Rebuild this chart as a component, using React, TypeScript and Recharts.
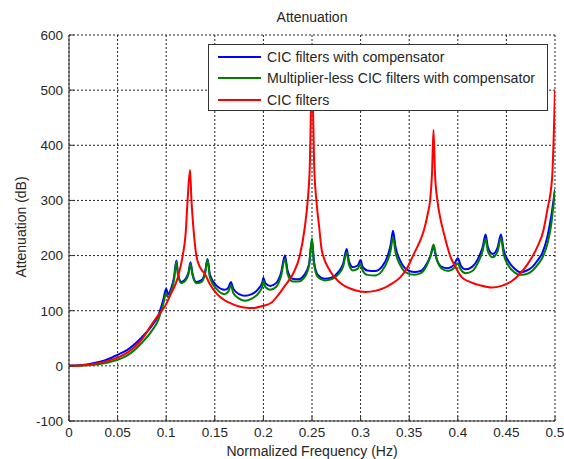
import React from 'react';
import { LineChart, Line, XAxis, YAxis, CartesianGrid } from 'recharts';

// normalized frequency ticks and attenuation ticks
const xTicks = [0, 0.05, 0.1, 0.15, 0.2, 0.25, 0.3, 0.35, 0.4, 0.45, 0.5];
const yTicks = [-100, 0, 100, 200, 300, 400, 500, 600];

// CIC filters with compensator (blue)
const compFreq = [
  0, 0.02, 0.04, 0.05, 0.06, 0.075, 0.085, 0.092, 0.097, 0.1, 0.102, 0.105, 0.108, 0.1105, 0.112, 0.1155,
  0.12, 0.123, 0.125, 0.127, 0.131, 0.136, 0.14, 0.1425, 0.145, 0.152, 0.16, 0.164, 0.1665, 0.169, 0.175,
  0.181, 0.188, 0.195, 0.199, 0.2, 0.202, 0.207, 0.213, 0.218, 0.2222, 0.225, 0.23, 0.236, 0.242, 0.247,
  0.25, 0.252, 0.256, 0.263, 0.27, 0.277, 0.282, 0.2857, 0.288, 0.292, 0.297, 0.3, 0.302, 0.307, 0.315,
  0.322, 0.328, 0.331, 0.3333, 0.336, 0.341, 0.348, 0.355, 0.362, 0.368, 0.372, 0.375, 0.378, 0.383, 0.39,
  0.396, 0.4, 0.403, 0.408, 0.415, 0.421, 0.4255, 0.4286, 0.431, 0.436, 0.441, 0.4444, 0.447, 0.452, 0.458,
  0.464, 0.47, 0.477, 0.482, 0.487, 0.492, 0.496, 0.5,
];
const compAtten = [
  0, 3, 12, 20, 29, 52, 72, 92, 120, 140, 130, 140, 160, 191, 170, 152,
  158, 170, 188, 168, 152, 155, 170, 194, 165, 145, 138, 142, 152, 140, 130,
  127, 130, 140, 152, 160, 150, 145, 150, 168, 200, 172, 158, 157, 165, 185,
  228, 190, 165, 158, 160, 170, 185, 212, 190, 179, 182, 192, 180, 173, 172,
  180, 200, 220, 245, 215, 190, 174, 170, 172, 185, 200, 215, 195, 180, 177,
  183, 195, 182, 175, 180, 195, 215, 238, 215, 203, 215, 238, 212, 190, 177,
  170, 172, 180, 191, 205, 233, 270, 320,
];

// Multiplier-less CIC filters with compensator (green), same frequency grid
const mlFreq = compFreq;
const mlAtten = [
  0, 1, 6, 11, 19, 42, 63, 84, 112, 132, 124, 135, 155, 189, 165, 150,
  155, 167, 185, 165, 150, 152, 167, 192, 160, 139, 130, 135, 146, 132, 122,
  118, 122, 132, 145, 154, 143, 138, 143, 162, 194, 166, 153, 153, 160, 182,
  232, 186, 161, 155, 157, 166, 180, 206, 184, 173, 176, 185, 173, 165, 164,
  172, 192, 210, 233, 205, 182, 168, 165, 168, 182, 200, 220, 196, 177, 172,
  177, 186, 175, 168, 172, 188, 208, 230, 207, 197, 208, 232, 204, 182, 170,
  165, 166, 173, 183, 196, 220, 255, 318,
];

// CIC filters (red)
const cicFreq = [
  0, 0.02, 0.04, 0.05, 0.06, 0.075, 0.085, 0.092, 0.1, 0.105, 0.11, 0.113, 0.117, 0.12, 0.122, 0.1245,
  0.126, 0.128, 0.131, 0.135, 0.1397, 0.145, 0.152, 0.16, 0.167, 0.18, 0.19, 0.2, 0.2085, 0.215, 0.222,
  0.2305, 0.2375, 0.2425, 0.2456, 0.2475, 0.25, 0.2525, 0.2545, 0.2575, 0.26, 0.2686, 0.278, 0.2943, 0.305,
  0.315, 0.325, 0.333, 0.341, 0.348, 0.354, 0.36, 0.365, 0.369, 0.3715, 0.3735, 0.375, 0.3765, 0.379, 0.382,
  0.386, 0.392, 0.398, 0.404, 0.413, 0.423, 0.435, 0.445, 0.455, 0.464, 0.472, 0.4816, 0.488, 0.492, 0.497, 0.5,
];
const cicAtten = [
  0, 2, 9, 15, 24, 48, 75, 92, 112, 131, 150, 167, 200, 240, 300, 355,
  300, 250, 200, 178, 167, 148, 131, 119, 113, 106, 105, 109, 115, 128, 145,
  167, 200, 250, 300, 350, 520, 350, 300, 250, 210, 172, 152, 137, 134,
  136, 142, 150, 161, 178, 200, 222, 245, 275, 300, 350, 428, 350, 300, 268,
  238, 200, 178, 161, 152, 146, 142, 145, 153, 167, 185, 215, 245, 282, 340, 500,
];

const legendItems = [
  { name: 'CIC filters with compensator', color: '#0000ff' },
  { name: 'Multiplier-less CIC filters with compensator', color: '#008000' },
  { name: 'CIC filters', color: '#ff0000' },
];

const toPoints = (xs: number[], ys: number[]) => xs.map((x, i) => ({ x, y: ys[i] }));

const font = '"Liberation Sans", Arial, sans-serif';
const textColor = '#262626';

const App: React.FC = () => {
  const compData = toPoints(compFreq, compAtten);
  const mlData = toPoints(mlFreq, mlAtten);
  const cicData = toPoints(cicFreq, cicAtten);

  return (
    <div style={{ position: 'absolute', left: 0, top: 0, width: 564, height: 459, fontFamily: font, background: '#fff', overflow: 'hidden' }}>
      <LineChart width={564} height={459} margin={{ top: 35, right: 9, bottom: 8, left: 29 }}>
        <CartesianGrid xAxisId="b" yAxisId="l" stroke="#222" strokeDasharray="2 2" />
        <XAxis
          xAxisId="b"
          dataKey="x"
          type="number"
          domain={[0, 0.5]}
          ticks={xTicks}
          height={30}
          tickSize={-5}
          tickMargin={11}
          axisLine={{ stroke: '#333' }}
          tickLine={{ stroke: '#333' }}
          tick={{ fontSize: 13.5, fill: textColor, fontFamily: font }}
          allowDataOverflow
        />
        <XAxis
          xAxisId="t"
          orientation="top"
          dataKey="x"
          type="number"
          domain={[0, 0.5]}
          ticks={xTicks}
          height={0}
          mirror
          tickSize={5}
          tickFormatter={() => ''}
          axisLine={{ stroke: '#333' }}
          tickLine={{ stroke: '#333' }}
        />
        <YAxis
          yAxisId="l"
          type="number"
          domain={[-100, 600]}
          ticks={yTicks}
          width={40}
          tickSize={-5}
          tickMargin={11}
          axisLine={{ stroke: '#333' }}
          tickLine={{ stroke: '#333' }}
          tick={{ fontSize: 13.5, fill: textColor, fontFamily: font }}
          allowDataOverflow
        />
        <YAxis
          yAxisId="r"
          orientation="right"
          type="number"
          domain={[-100, 600]}
          ticks={yTicks}
          width={0}
          mirror
          tickSize={5}
          tickFormatter={() => ''}
          axisLine={{ stroke: '#333' }}
          tickLine={{ stroke: '#333' }}
        />
        <Line xAxisId="b" yAxisId="l" data={compData} dataKey="y" type="monotone" stroke="#0000ff" strokeWidth={2} dot={false} isAnimationActive={false} />
        <Line xAxisId="b" yAxisId="l" data={mlData} dataKey="y" type="monotone" stroke="#008000" strokeWidth={2} dot={false} isAnimationActive={false} />
        <Line xAxisId="b" yAxisId="l" data={cicData} dataKey="y" type="monotone" stroke="#ff0000" strokeWidth={2} dot={false} isAnimationActive={false} />
      </LineChart>

      <div style={{ position: 'absolute', left: 0, width: 624, top: 9, textAlign: 'center', fontSize: 14, color: textColor }}>
        Attenuation
      </div>
      <div
        style={{
          position: 'absolute',
          left: 21,
          top: 227,
          transform: 'translate(-50%, -50%) rotate(-90deg)',
          fontSize: 14,
          color: textColor,
          whiteSpace: 'nowrap',
        }}
      >
        Attenuation (dB)
      </div>
      <div style={{ position: 'absolute', left: 0, width: 624, top: 443, textAlign: 'center', fontSize: 14, color: textColor }}>
        Normalized Frequency (Hz)
      </div>

      <div
        style={{
          position: 'absolute',
          left: 208,
          top: 44,
          width: 340,
          height: 67,
          background: '#fff',
          border: '1px solid #333',
          fontSize: 14.2,
          color: textColor,
          padding: '1px 0 0 0',
          boxSizing: 'border-box',
        }}
      >
        {legendItems.map((item) => (
          <div key={item.name} style={{ display: 'flex', alignItems: 'center', height: 21.5 }}>
            <div style={{ width: 43, height: 2, background: item.color, marginLeft: 9, marginRight: 6 }} />
            <span>{item.name}</span>
          </div>
        ))}
      </div>
    </div>
  );
};

export default App;
